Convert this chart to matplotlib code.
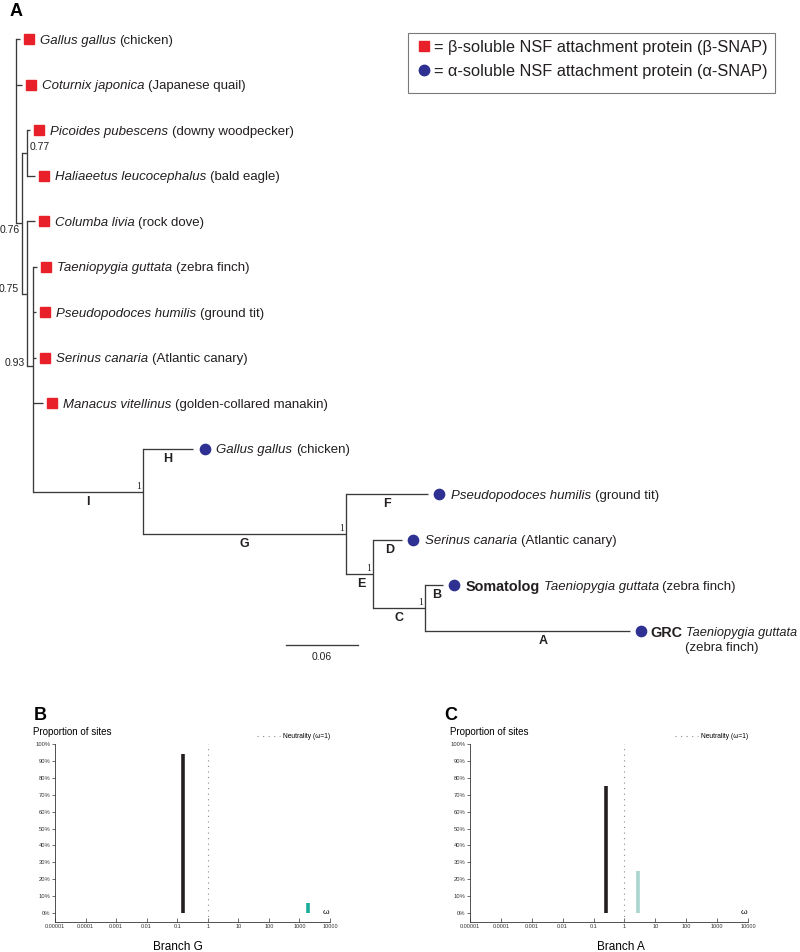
import matplotlib
matplotlib.use('Agg')
import matplotlib.pyplot as plt
from matplotlib.transforms import offset_copy
from matplotlib.lines import Line2D
from matplotlib.patches import Rectangle
import numpy as np

plt.rcParams['font.family'] = ['Liberation Sans', 'DejaVu Sans']

# ---------------- data: phylogeny ----------------
# nodes in pre-order; parent index, branch length (substitutions/site)
node_parent = [-1, 0, 0, 0, 3, 4, 4, 3, 7, 7, 9, 9, 9, 9, 9, 14, 14, 16, 16, 18, 18, 20, 20]
branch_len = [0.0, 0.0033, 0.005, 0.005, 0.0042, 0.0025, 0.0067, 0.0042, 0.0067, 0.005,
              0.0033, 0.0025, 0.0025, 0.0083, 0.0917, 0.0417, 0.169, 0.0683, 0.0225,
              0.0242, 0.0433, 0.015, 0.1708]
node_species = {1: 'Gallus gallus', 2: 'Coturnix japonica', 5: 'Picoides pubescens',
                6: 'Haliaeetus leucocephalus', 8: 'Columba livia', 10: 'Taeniopygia guttata',
                11: 'Pseudopodoces humilis', 12: 'Serinus canaria', 13: 'Manacus vitellinus',
                15: 'Gallus gallus', 17: 'Pseudopodoces humilis', 19: 'Serinus canaria',
                21: 'Taeniopygia guttata', 22: 'Taeniopygia guttata'}
node_common = {1: 'chicken', 2: 'Japanese quail', 5: 'downy woodpecker', 6: 'bald eagle',
               8: 'rock dove', 10: 'zebra finch', 11: 'ground tit', 12: 'Atlantic canary',
               13: 'golden-collared manakin', 15: 'chicken', 17: 'ground tit',
               19: 'Atlantic canary', 21: 'zebra finch', 22: 'zebra finch'}
node_prefix = {21: 'Somatolog', 22: 'GRC'}
beta_leaves = [1, 2, 5, 6, 8, 10, 11, 12, 13]
alpha_leaves = [15, 17, 19, 21, 22]
support = {3: '0.76', 4: '0.77', 7: '0.75', 9: '0.93', 14: '1', 16: '1', 18: '1', 20: '1'}
branch_label = {14: 'I', 15: 'H', 16: 'G', 17: 'F', 18: 'E', 19: 'D', 20: 'C', 21: 'B', 22: 'A'}
scale_len = 0.06

# ---------------- data: omega distributions ----------------
omega_G = [0.15, 1900]
prop_G = [94, 6]
omega_A = [0.25, 2.8]
prop_A = [75, 25]
x_ticks = [1e-5, 1e-4, 1e-3, 1e-2, 1e-1, 1, 10, 100, 1000, 10000]
x_ticklabels = ['0.00001', '0.0001', '0.001', '0.01', '0.1', '1', '10', '100', '1000', '10000']
y_ticks = list(range(0, 101, 10))

# ---------------- figure ----------------
W, H = 800, 952
fig = plt.figure(figsize=(W / 100, H / 100), dpi=100)
renderer = fig.canvas.get_renderer()


def fx(px):
    return px / W


def fy(py):
    return 1 - py / H


RED = '#e8202a'
BLUE = '#2e3192'
LINE = '#3a3a3a'
TXT = '#231f20'

ax = fig.add_axes([0, 0, 1, 1])
ax.axis('off')
px_per_unit = 1200.0
leaf_sp = (631 - 39) / 13.0
ax.set_xlim(-16 / px_per_unit, (W - 16) / px_per_unit)
ax.set_ylim((H - 39) / leaf_sp, -39 / leaf_sp)

n = len(node_parent)
children = {i: [] for i in range(n)}
for i, p in enumerate(node_parent):
    if p >= 0:
        children[p].append(i)
xs = np.zeros(n)
for i in range(1, n):
    xs[i] = xs[node_parent[i]] + branch_len[i]
ys = np.zeros(n)
leaf_counter = 0
for i in range(n):
    if not children[i]:
        ys[i] = leaf_counter
        leaf_counter += 1
for i in reversed(range(n)):
    if children[i]:
        ys[i] = np.mean([ys[c] for c in children[i]])

lw = 0.95
for i in range(n):
    if children[i]:
        cy = [ys[c] for c in children[i]]
        ax.plot([xs[i], xs[i]], [min(cy), max(cy)], color=LINE, lw=lw, solid_capstyle='projecting')
    p = node_parent[i]
    if p >= 0:
        ax.plot([xs[p], xs[i]], [ys[i], ys[i]], color=LINE, lw=lw, solid_capstyle='butt')

# markers
tr_sq = offset_copy(ax.transData, fig=fig, x=9, y=0, units='dots')
tr_ci = offset_copy(ax.transData, fig=fig, x=11.5, y=0, units='dots')
ax.plot(xs[beta_leaves], ys[beta_leaves], 's', color=RED, markersize=7.2, transform=tr_sq)
ax.plot(xs[alpha_leaves], ys[alpha_leaves], 'o', color=BLUE, markersize=7.4, transform=tr_ci)

FS = 9.5
SP = 3.6


def rich(x, y, parts, start):
    off = start
    for s, style, weight, size in parts:
        tr = offset_copy(ax.transData, fig=fig, x=off, y=0, units='dots')
        t = ax.text(x, y, s, transform=tr, fontstyle=style, fontweight=weight, fontsize=size,
                    va='center_baseline', ha='left', color=TXT)
        off += t.get_window_extent(renderer).width + SP
    return off


for i in beta_leaves:
    rich(xs[i], ys[i], [(node_species[i], 'italic', 'normal', FS),
                        ('(' + node_common[i] + ')', 'normal', 'normal', FS)], 20)
for i in alpha_leaves:
    parts = []
    if i in node_prefix:
        parts.append((node_prefix[i], 'normal', 'bold', 10.4))
    if i == 22:
        parts.append((node_species[i], 'italic', 'normal', 9.2))
        rich(xs[i], ys[i], parts, 21)
        tr = offset_copy(ax.transData, fig=fig, x=92, y=-15, units='dots')
        ax.text(xs[i], ys[i], '(' + node_common[i] + ')', transform=tr, fontsize=FS,
                va='center_baseline', ha='center', color=TXT)
    else:
        parts.append((node_species[i], 'italic', 'normal', FS))
        parts.append(('(' + node_common[i] + ')', 'normal', 'normal', FS))
        rich(xs[i], ys[i], parts, 23)

# support values
sup_style = {3: ('self', -2, 'right', 'top', -2),
             7: ('parent', -3, 'right', 'center', 5),
             9: ('parent', -2, 'right', 'center', 3),
             4: ('self', 3, 'left', 'bottom', 1)}
for i, s in support.items():
    if i in sup_style:
        ref, dx, ha, va, dy = sup_style[i]
        xr = xs[node_parent[i]] if ref == 'parent' else xs[i]
        tr = offset_copy(ax.transData, fig=fig, x=dx, y=dy, units='dots')
        ax.text(xr, ys[i], s, transform=tr, fontsize=7.5, ha=ha, va=va, color=TXT)
    else:
        tr = offset_copy(ax.transData, fig=fig, x=-2, y=1, units='dots')
        ax.text(xs[i], ys[i], s, transform=tr, fontsize=7, ha='right', va='bottom',
                family='Liberation Serif', color=TXT)

# branch labels
label_dx = {22: 16, 18: 2, 19: 2, 21: 3}
for i, s in branch_label.items():
    p = node_parent[i]
    tr = offset_copy(ax.transData, fig=fig, x=label_dx.get(i, 0), y=-10, units='dots')
    ax.text((xs[p] + xs[i]) / 2, ys[i], s, transform=tr, fontsize=9, fontweight='bold',
            ha='center', va='center', color=TXT)

# scale bar
sb_x, sb_y = 270 / px_per_unit, (645 - 39) / leaf_sp
ax.plot([sb_x, sb_x + scale_len], [sb_y, sb_y], color=LINE, lw=lw)
tr = offset_copy(ax.transData, fig=fig, x=0, y=-12, units='dots')
ax.text(sb_x + scale_len / 2, sb_y, f'{scale_len:.2f}', transform=tr, fontsize=7.5,
        ha='center', va='center', color=TXT)

# legend
handles = [Line2D([], [], marker='s', color=RED, ls='none', markersize=7.5),
           Line2D([], [], marker='o', color=BLUE, ls='none', markersize=7.5)]
labels = ['= \u03b2-soluble NSF attachment protein (\u03b2-SNAP)',
          '= \u03b1-soluble NSF attachment protein (\u03b1-SNAP)']
leg = ax.legend(handles, labels, loc='upper left', bbox_to_anchor=(fx(418), fy(40)),
                bbox_transform=fig.transFigure, fontsize=11.8, frameon=False,
                handlelength=0.7, handletextpad=0.3, borderpad=0,
                labelspacing=0.55, borderaxespad=0)
for t in leg.get_texts():
    t.set_color(TXT)
fig.add_artist(Rectangle((fx(408), fy(93)), (775 - 408) / W, (93 - 33) / H,
                         transform=fig.transFigure, fill=False, ec='#7a7a7a', lw=0.8))

fig.text(fx(16), fy(11), 'A', fontsize=13, fontweight='heavy', ha='center', va='center')


# ---------------- omega panels ----------------
def omega_panel(left, right, omega, prop, colors, letter, letter_x, prop_x, branch, branch_x):
    top, bottom = 744, 922
    a = fig.add_axes([fx(left), fy(bottom), (right - left) / W, (bottom - top) / H])
    a.set_xscale('log')
    a.set_xlim(1e-5, 1e4)
    a.set_ylim(-5.3, 100)
    for s in ('top', 'right'):
        a.spines[s].set_visible(False)
    for s in ('left', 'bottom'):
        a.spines[s].set_linewidth(0.6)
        a.spines[s].set_color('#333333')
    a.vlines(omega, 0, prop, colors=colors, lw=2.6)
    a.axvline(1, color='#8a8a8a', lw=0.8, ls=(0, (1, 4)))
    a.set_yticks(y_ticks)
    a.set_yticklabels([f'{v}%' for v in y_ticks])
    a.set_xticks(x_ticks)
    a.set_xticklabels(x_ticklabels)
    a.xaxis.set_minor_locator(matplotlib.ticker.LogLocator(base=10, subs=np.arange(2, 10)))
    a.xaxis.set_minor_formatter(matplotlib.ticker.NullFormatter())
    a.tick_params(axis='y', labelsize=4.2, length=2.2, width=0.5, pad=1.2, colors='#333333')
    a.tick_params(axis='x', which='major', labelsize=4.0, length=3, width=0.5, direction='in',
                  pad=1.5, colors='#333333')
    a.tick_params(axis='x', which='minor', length=1.8, width=0.4, direction='in', colors='#333333')
    lh = [Line2D([], [], color='#8a8a8a', lw=0.8, ls=(0, (1, 4)))]
    a.legend(lh, ['Neutrality (\u03c9=1)'], loc='center right', bbox_to_anchor=(1.0, 1.04),
             frameon=False, fontsize=4.8, handlelength=3.4, handletextpad=0.5, borderaxespad=0,
             borderpad=0)
    fig.text(fx(right - 4), fy(912), '\u03c9', fontsize=6, ha='center', va='center')
    fig.text(fx(letter_x), fy(715), letter, fontsize=13, fontweight='heavy', ha='center', va='center')
    fig.text(fx(prop_x), fy(732), 'Proportion of sites', fontsize=7, ha='left', va='center')
    fig.text(fx(branch_x), fy(947), branch, fontsize=8.5, ha='center', va='center')
    return a


omega_panel(55, 330, omega_G, prop_G, ['#231f20', '#1aab9b'], 'B', 40, 33, 'Branch G', 178)
omega_panel(470, 748, omega_A, prop_A, ['#231f20', '#a8d5ce'], 'C', 451, 450, 'Branch A', 621)

fig.savefig('out.png', dpi=100)
